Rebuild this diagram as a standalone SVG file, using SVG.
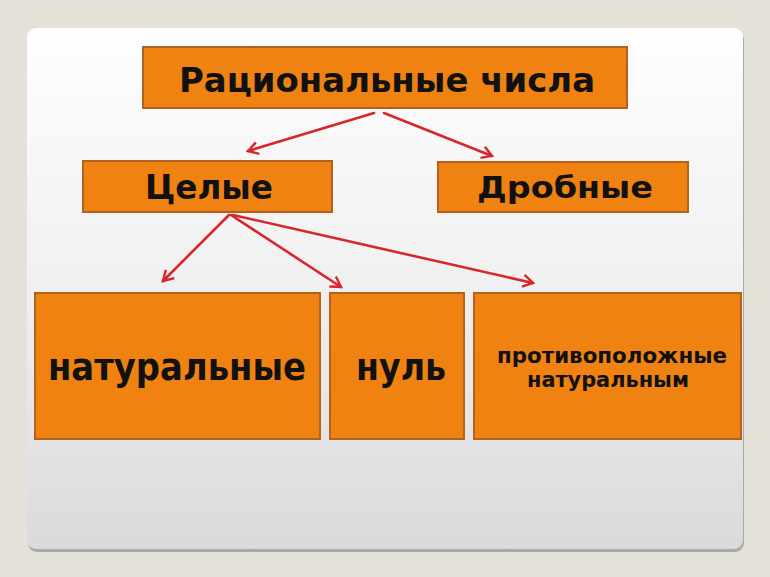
<svg xmlns="http://www.w3.org/2000/svg" width="770" height="577" viewBox="0 0 770 577">
<defs>
  <linearGradient id="panelGrad" x1="0" y1="0" x2="0" y2="1">
    <stop offset="0" stop-color="#fefefe"/>
    <stop offset="0.5" stop-color="#f0f0f0"/>
    <stop offset="1" stop-color="#dadada"/>
  </linearGradient>
  <marker id="arr" markerUnits="userSpaceOnUse" markerWidth="16" markerHeight="16" viewBox="0 0 16 16" refX="13" refY="8" orient="auto">
    <path d="M3,2 L13,8 L3,14" fill="none" stroke="#d8262b" stroke-width="2.4" stroke-linejoin="miter"/>
  </marker>
  <style>
    .box { fill: #ef8210; stroke: #b0621e; stroke-width: 2; }
    .lbl { font-family: "DejaVu Sans", Verdana, sans-serif; font-weight: bold; fill: #111; }
    .conn { fill: none; stroke: #d8262b; stroke-width: 2.6; stroke-linecap: round; marker-end: url(#arr); }
  </style>
</defs>
<rect x="0" y="0" width="770" height="577" fill="#e4e1d8"/>
<rect x="28" y="31" width="716" height="521" rx="9" fill="#a9a9a6"/>
<rect x="27" y="28" width="716" height="521" rx="9" fill="url(#panelGrad)"/>

<g id="connectors">
  <line class="conn" x1="374" y1="113" x2="248" y2="151"/>
  <line class="conn" x1="384" y1="113" x2="492" y2="156"/>
  <line class="conn" x1="229" y1="215" x2="163" y2="281"/>
  <line class="conn" x1="231" y1="215" x2="341" y2="287"/>
  <line class="conn" x1="233" y1="215" x2="533" y2="283"/>
</g>

<g id="node-rational">
  <rect class="box" x="143" y="47" width="484" height="61"/>
  <text class="lbl" x="179" y="92" font-size="33" textLength="416" lengthAdjust="spacingAndGlyphs">Рациональные числа</text>
</g>
<g id="node-integers">
  <rect class="box" x="83" y="161" width="249" height="51"/>
  <text class="lbl" x="145" y="199" font-size="33" textLength="128" lengthAdjust="spacingAndGlyphs">Целые</text>
</g>
<g id="node-fractions">
  <rect class="box" x="438" y="162" width="250" height="50"/>
  <text class="lbl" x="477" y="198" font-size="31" textLength="176" lengthAdjust="spacingAndGlyphs">Дробные</text>
</g>
<g id="node-natural">
  <rect class="box" x="35" y="293" width="285" height="146"/>
  <text class="lbl" x="48" y="380" font-size="37" textLength="258" lengthAdjust="spacingAndGlyphs">натуральные</text>
</g>
<g id="node-zero">
  <rect class="box" x="330" y="293" width="134" height="146"/>
  <text class="lbl" x="356" y="380" font-size="37" textLength="90" lengthAdjust="spacingAndGlyphs">нуль</text>
</g>
<g id="node-opposite">
  <rect class="box" x="474" y="293" width="267" height="146"/>
  <text class="lbl" x="497" y="363" font-size="21" textLength="230" lengthAdjust="spacingAndGlyphs">противоположные</text>
  <text class="lbl" x="527" y="387" font-size="21" textLength="162" lengthAdjust="spacingAndGlyphs">натуральным</text>
</g>
</svg>
